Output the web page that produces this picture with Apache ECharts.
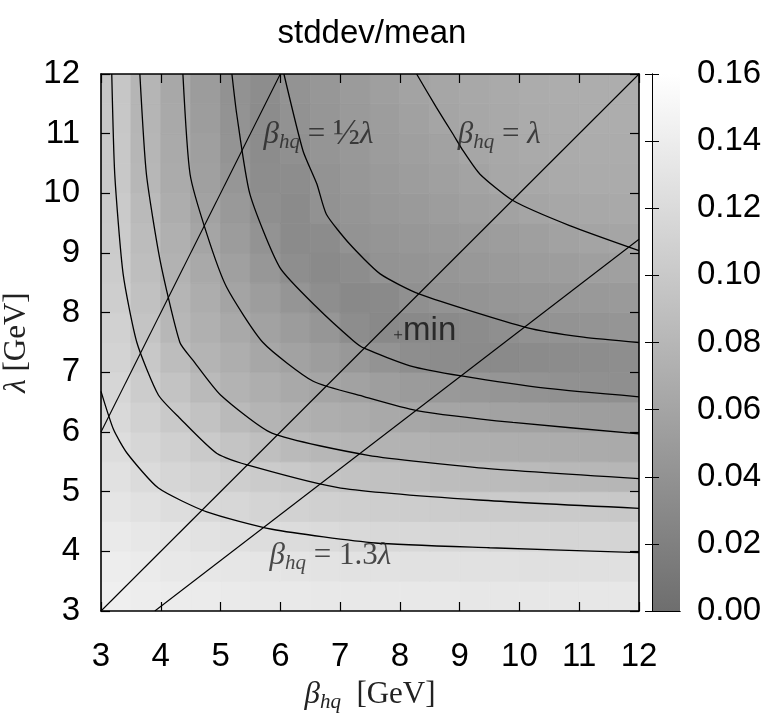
<!DOCTYPE html>
<html>
<head>
<meta charset="utf-8">
<script src="https://cdn.jsdelivr.net/npm/echarts@6/dist/echarts.min.js"></script>
<style>
  html, body { margin: 0; padding: 0; background: #fff; }
  #chart { width: 767px; height: 723px; }
</style>
</head>
<body>
<div id="chart"></div>
<script>
// Cell centres of the stddev/mean map (GeV)
const xCenters = [3.25, 3.75, 4.25, 4.75, 5.25, 5.75, 6.25, 6.75, 7.25, 7.75, 8.25, 8.75, 9.25, 9.75, 10.25, 10.75, 11.25, 11.75];
const yCenters = [3.25, 3.75, 4.25, 4.75, 5.25, 5.75, 6.25, 6.75, 7.25, 7.75, 8.25, 8.75, 9.25, 9.75, 10.25, 10.75, 11.25, 11.75];

// stddev/mean, one row per lambda (bottom row first), one entry per beta_hq
const zRows = [
  [0.142, 0.140, 0.1385, 0.1375, 0.1367, 0.136, 0.1355, 0.135, 0.1348, 0.1346, 0.1344, 0.1342, 0.134, 0.134, 0.1339, 0.1339, 0.1338, 0.1338],
  [0.1397, 0.1375, 0.135, 0.1332, 0.132, 0.131, 0.130, 0.1292, 0.1285, 0.1279, 0.1274, 0.127, 0.1267, 0.1264, 0.1262, 0.126, 0.1258, 0.1257],
  [0.1365, 0.1335, 0.131, 0.128, 0.1255, 0.123, 0.1215, 0.120, 0.1184, 0.1172, 0.1167, 0.1161, 0.1155, 0.1151, 0.1146, 0.114, 0.1136, 0.113],
  [0.1315, 0.127, 0.1224, 0.1186, 0.1156, 0.1128, 0.1108, 0.1085, 0.1067, 0.1057, 0.1048, 0.1039, 0.103, 0.1023, 0.1018, 0.101, 0.1003, 0.0995],
  [0.127, 0.1205, 0.1153, 0.1099, 0.1056, 0.1025, 0.100, 0.0961, 0.0932, 0.0914, 0.0895, 0.0876, 0.0859, 0.0845, 0.0835, 0.082, 0.0808, 0.0795],
  [0.1225, 0.115, 0.1081, 0.1012, 0.0951, 0.089, 0.0844, 0.0809, 0.0782, 0.0763, 0.0746, 0.0731, 0.0718, 0.0706, 0.0696, 0.0685, 0.0675, 0.0663],
  [0.1183, 0.1096, 0.1009, 0.0923, 0.084, 0.0773, 0.0739, 0.0707, 0.068, 0.0654, 0.0628, 0.0612, 0.0597, 0.0579, 0.0562, 0.0545, 0.0532, 0.0516],
  [0.115, 0.1041, 0.0941, 0.0834, 0.0764, 0.0702, 0.0655, 0.0608, 0.0575, 0.0535, 0.0496, 0.047, 0.0448, 0.0427, 0.0403, 0.0386, 0.0378, 0.0369],
  [0.1115, 0.099, 0.0873, 0.0775, 0.0707, 0.0631, 0.0576, 0.0521, 0.046, 0.0405, 0.0356, 0.0332, 0.032, 0.0314, 0.032, 0.0332, 0.0345, 0.035],
  [0.109, 0.0944, 0.0804, 0.073, 0.0651, 0.057, 0.0504, 0.0436, 0.0345, 0.0299, 0.0295, 0.0308, 0.033, 0.0363, 0.0402, 0.0412, 0.0421, 0.0429],
  [0.1058, 0.0913, 0.078, 0.069, 0.0597, 0.0517, 0.0433, 0.035, 0.0295, 0.0313, 0.037, 0.0405, 0.0419, 0.0436, 0.0452, 0.0466, 0.0478, 0.049],
  [0.1033, 0.0882, 0.0752, 0.0648, 0.0555, 0.0455, 0.0351, 0.031, 0.034, 0.0407, 0.0422, 0.0438, 0.046, 0.0483, 0.0503, 0.0519, 0.0536, 0.0553],
  [0.1023, 0.0859, 0.0726, 0.0611, 0.0509, 0.0408, 0.0322, 0.0335, 0.0408, 0.0431, 0.0454, 0.0477, 0.050, 0.0523, 0.0546, 0.0569, 0.0592, 0.061],
  [0.101, 0.0835, 0.070, 0.0579, 0.0472, 0.0362, 0.0321, 0.040, 0.043, 0.0459, 0.0488, 0.0518, 0.0547, 0.0576, 0.0605, 0.0628, 0.064, 0.065],
  [0.0996, 0.0808, 0.067, 0.0549, 0.0443, 0.0341, 0.0339, 0.0413, 0.0447, 0.0482, 0.0517, 0.0552, 0.0587, 0.0625, 0.0645, 0.066, 0.067, 0.0675],
  [0.0988, 0.0795, 0.0658, 0.0536, 0.0424, 0.0334, 0.0371, 0.0428, 0.0466, 0.0503, 0.0541, 0.0578, 0.0615, 0.0645, 0.066, 0.0675, 0.0683, 0.0688],
  [0.098, 0.0786, 0.0647, 0.0523, 0.0407, 0.0335, 0.0401, 0.0441, 0.0481, 0.0521, 0.0561, 0.0602, 0.063, 0.0655, 0.0672, 0.0683, 0.069, 0.0693],
  [0.0975, 0.0778, 0.0639, 0.0513, 0.0392, 0.0342, 0.0411, 0.0455, 0.0498, 0.0541, 0.0584, 0.062, 0.0645, 0.0665, 0.068, 0.069, 0.0695, 0.0698]
];

// Contour lines of the map (beta_hq, lambda)
const contour012 = [[3.0, 6.68], [3.21, 6.04], [3.44, 5.64], [3.96, 5.06], [4.77, 4.66], [5.86, 4.37], [7.59, 4.14], [9.5, 4.06], [12, 3.98]];
const contour010 = [[3.18, 12], [3.23, 10.32], [3.37, 8.65], [3.60, 7.50], [3.96, 6.62], [4.31, 6.24], [4.94, 5.64], [5.58, 5.41], [7.01, 5.06], [9.32, 4.86], [12, 4.72]];
const contour008 = [[3.65, 12], [3.76, 10.32], [3.99, 8.87], [4.32, 7.50], [4.54, 7.20], [5.00, 6.62], [5.86, 5.98], [7.47, 5.61], [9.32, 5.40], [12, 5.22]];
const contour006Low = [[4.37, 12], [4.49, 10.32], [4.77, 9.32], [5.10, 8.43], [5.71, 7.50], [6.55, 6.85], [7.41, 6.59], [8.28, 6.36], [9.89, 6.16], [12, 5.97]];
const contour004Low = [[5.19, 12], [5.27, 11.33], [5.49, 9.99], [5.99, 8.76], [6.61, 8.09], [7.22, 7.53], [7.41, 7.40], [8.17, 7.11], [9.03, 6.94], [10.47, 6.73], [12, 6.59]];
const contour004High = [[6.06, 12], [6.38, 10.71], [6.61, 10.16], [6.77, 9.65], [7.16, 9.15], [7.67, 8.65], [8.33, 8.31], [10.12, 7.75], [11.07, 7.59], [12, 7.50]];
const contour006High = [[8.28, 12], [8.61, 11.44], [8.89, 10.99], [9.06, 10.71], [9.34, 10.32], [9.89, 9.88], [10.84, 9.46], [12, 9.04]];

// Reference lines beta_hq = lambda/2, lambda, 1.3 lambda
const lineHalf = [[3, 6], [6, 12]];
const lineEqual = [[3, 3], [12, 12]];
const line13 = [[3.9, 3], [12, 12 / 1.3]];

// Minimum and line annotations
const minPoint = [7.97, 7.63];
const labelHalfAt = [5.72, 10.98];
const labelEqualAt = [8.97, 10.98];
const labelThirteenAt = [5.82, 3.92];

// Axis and colour-bar ranges
const axisMin = 3, axisMax = 12, axisStep = 1;
const cbMin = 0, cbMax = 0.16, cbStep = 0.02;

const cellData = [];
yCenters.forEach((y, j) => xCenters.forEach((x, i) => cellData.push([x, y, zRows[j][i]])));
const halfW = (xCenters[1] - xCenters[0]) / 2;
const halfH = (yCenters[1] - yCenters[0]) / 2;

const grayLow = '#6e6e6e';
const sans = 'Liberation Sans';
const serif = 'Liberation Serif';
const tickFont = 33;

const mathRich = {
  m: { fontFamily: serif, fontStyle: 'italic', fontSize: 31, color: '#222', lineHeight: 36 },
  s: { fontFamily: serif, fontStyle: 'italic', fontSize: 21, color: '#222', lineHeight: 20, verticalAlign: 'bottom' },
  r: { fontFamily: serif, fontSize: 31, color: '#222', lineHeight: 36 },
  f: { fontFamily: serif, fontSize: 36, color: '#222', lineHeight: 36 }
};

const frameLine = { lineStyle: { color: '#000', width: 1.6 } };
const tickIn = { inside: true, length: 9, lineStyle: { color: '#000', width: 1.2 } };

function lineSeries(data) {
  return {
    type: 'line', xAxisIndex: 0, yAxisIndex: 0, data: data, symbol: 'none', smooth: 0.2,
    lineStyle: { color: '#000', width: 1.3 }, z: 5, silent: true
  };
}

function textSeries(at, text) {
  return {
    type: 'scatter', xAxisIndex: 0, yAxisIndex: 0, data: [at], symbolSize: 0, z: 6, silent: true,
    label: { show: true, position: 'right', distance: 0, formatter: text, rich: mathRich }
  };
}

const chart = echarts.init(document.getElementById('chart'), null, { renderer: 'canvas' });
chart.setOption({
  animation: false,
  backgroundColor: '#fff',
  graphic: [{
    type: 'text', x: 372, y: 34,
    style: { text: 'stddev/mean', font: '33px "Liberation Sans"', fill: '#000', align: 'center', verticalAlign: 'middle' }
  }],
  grid: [
    { left: 101, top: 74, width: 538, height: 537, containLabel: false, outerBoundsMode: 'none' },
    { left: 652, top: 74, width: 28, height: 537, containLabel: false, outerBoundsMode: 'none' }
  ],
  xAxis: [
    {
      gridIndex: 0, type: 'value', min: axisMin, max: axisMax, interval: axisStep, position: 'bottom', z: 10,
      axisLine: frameLine, axisTick: tickIn, splitLine: { show: false },
      axisLabel: { fontFamily: sans, fontSize: tickFont, color: '#000', margin: 29 },
      name: '{m|β}{s|hq}{r|  [GeV]}', nameLocation: 'middle', nameGap: 66,
      nameTextStyle: { rich: mathRich }
    },
    {
      gridIndex: 0, type: 'value', min: axisMin, max: axisMax, interval: axisStep, position: 'top', z: 10,
      axisLine: frameLine, axisTick: tickIn, axisLabel: { show: false }, splitLine: { show: false }
    },
    {
      gridIndex: 1, type: 'value', min: 0, max: 1, position: 'bottom', z: 10,
      axisLine: { lineStyle: { color: '#000', width: 1 } }, axisTick: { show: false },
      axisLabel: { show: false }, splitLine: { show: false }
    },
    {
      gridIndex: 1, type: 'value', min: 0, max: 1, position: 'top', z: 10,
      axisLine: { lineStyle: { color: '#000', width: 1 } }, axisTick: { show: false },
      axisLabel: { show: false }, splitLine: { show: false }
    }
  ],
  yAxis: [
    {
      gridIndex: 0, type: 'value', min: axisMin, max: axisMax, interval: axisStep, position: 'left', z: 10,
      axisLine: frameLine, axisTick: tickIn, splitLine: { show: false },
      axisLabel: { fontFamily: sans, fontSize: tickFont, color: '#000', margin: 21 },
      name: '{m|λ}{r| [GeV]}', nameLocation: 'middle', nameGap: 64, nameRotate: 90,
      nameTextStyle: { rich: mathRich }
    },
    {
      gridIndex: 0, type: 'value', min: axisMin, max: axisMax, interval: axisStep, position: 'right', z: 10,
      axisLine: frameLine, axisTick: tickIn, axisLabel: { show: false }, splitLine: { show: false }
    },
    {
      gridIndex: 1, type: 'value', min: cbMin, max: cbMax, interval: cbStep, position: 'right', z: 10,
      axisLine: { lineStyle: { color: '#000', width: 1 } },
      axisTick: { inside: true, length: 7, lineStyle: { color: '#000', width: 1 } },
      axisLabel: { fontFamily: sans, fontSize: tickFont, color: '#000', margin: 17, formatter: v => v.toFixed(2) },
      splitLine: { show: false }
    },
    {
      gridIndex: 1, type: 'value', min: cbMin, max: cbMax, interval: cbStep, position: 'left', z: 10,
      axisLine: { lineStyle: { color: '#000', width: 1 } },
      axisTick: { inside: true, length: 7, lineStyle: { color: '#000', width: 1 } },
      axisLabel: { show: false }, splitLine: { show: false }
    }
  ],
  visualMap: {
    type: 'continuous', show: false, seriesIndex: 0, dimension: 2,
    min: cbMin, max: cbMax, inRange: { color: [grayLow, '#ffffff'] }
  },
  series: [
    {
      type: 'custom', xAxisIndex: 0, yAxisIndex: 0, data: cellData, clip: true, z: 1, silent: true,
      encode: { x: 0, y: 1 },
      renderItem: function (params, api) {
        const x = api.value(0), y = api.value(1);
        const p0 = api.coord([x - halfW, y + halfH]);
        const p1 = api.coord([x + halfW, y - halfH]);
        const c = api.visual('color');
        return {
          type: 'rect',
          shape: { x: p0[0], y: p0[1], width: p1[0] - p0[0], height: p1[1] - p0[1] },
          style: { fill: c, stroke: c, lineWidth: 0.8 }
        };
      }
    },
    {
      type: 'custom', xAxisIndex: 2, yAxisIndex: 2, data: [[0, cbMin, cbMax]], z: 1, silent: true,
      renderItem: function (params, api) {
        const p0 = api.coord([0, api.value(2)]);
        const p1 = api.coord([1, api.value(1)]);
        return {
          type: 'rect',
          shape: { x: p0[0], y: p0[1], width: p1[0] - p0[0], height: p1[1] - p0[1] },
          style: {
            fill: new echarts.graphic.LinearGradient(0, 1, 0, 0, [
              { offset: 0, color: grayLow }, { offset: 1, color: '#ffffff' }
            ])
          }
        };
      }
    },
    lineSeries(contour012),
    lineSeries(contour010),
    lineSeries(contour008),
    lineSeries(contour006Low),
    lineSeries(contour004Low),
    lineSeries(contour004High),
    lineSeries(contour006High),
    Object.assign(lineSeries(lineHalf), { smooth: false, lineStyle: { color: '#000', width: 1.1 } }),
    Object.assign(lineSeries(lineEqual), { smooth: false, lineStyle: { color: '#000', width: 1.1 } }),
    Object.assign(lineSeries(line13), { smooth: false, lineStyle: { color: '#000', width: 1.1 } }),
    textSeries(labelHalfAt, '{m|β}{s|hq}{r| = }{f|½}{m|λ}'),
    textSeries(labelEqualAt, '{m|β}{s|hq}{r| = }{m|λ}'),
    textSeries(labelThirteenAt, '{m|β}{s|hq}{r| = 1.3}{m|λ}'),
    {
      type: 'scatter', xAxisIndex: 0, yAxisIndex: 0, data: [minPoint], z: 6, silent: true,
      symbol: 'path://M0,4.4H10V5.6H0ZM4.4,0H5.6V10H4.4Z', symbolSize: 8,
      itemStyle: { color: '#111' },
      label: {
        show: true, position: 'right', distance: 1, formatter: 'min',
        fontFamily: sans, fontSize: tickFont, color: '#111', offset: [0, -4]
      }
    }
  ]
});
</script>
</body>
</html>
